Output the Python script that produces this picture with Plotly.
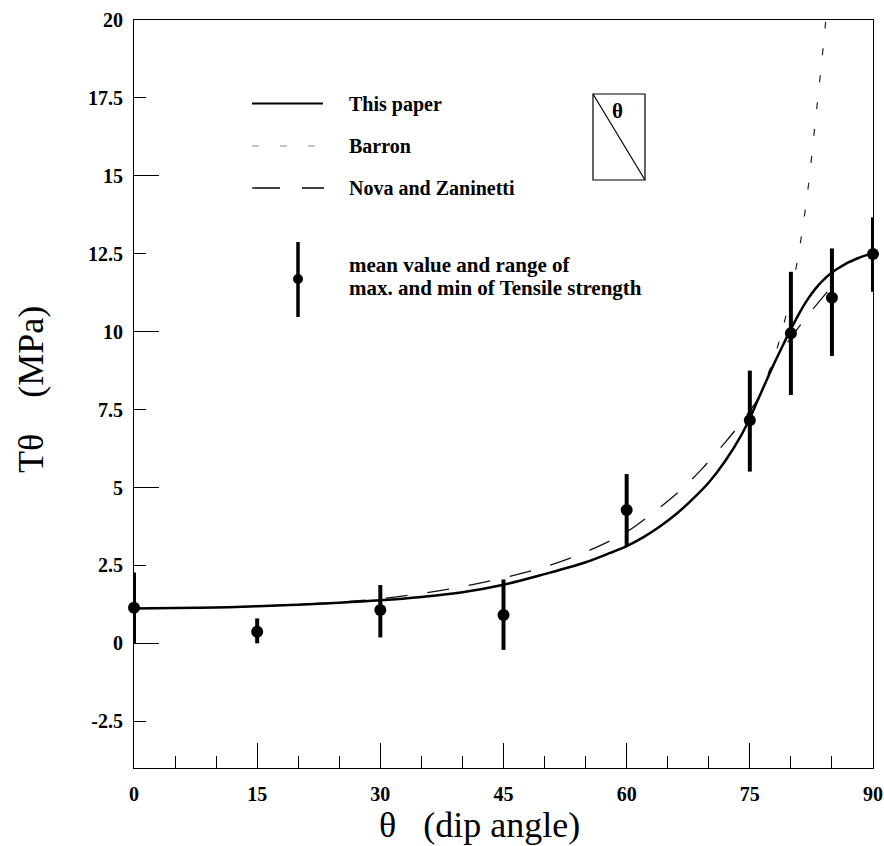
import plotly.graph_objects as go

# ---------------- data ----------------
theta_pts = [0, 15, 30, 45, 60, 75, 80, 85, 90]
t_mean = [1.14, 0.37, 1.07, 0.91, 4.28, 7.16, 9.95, 11.09, 12.49]
t_max = [2.27, 0.80, 1.87, 2.05, 5.43, 8.75, 11.92, 12.67, 13.67]
t_min = [0.00, 0.00, 0.19, -0.21, 3.13, 5.51, 7.97, 9.22, 11.28]

theta_paper = [0, 5, 10, 15, 20, 25, 30, 35, 40, 45, 50, 55, 58, 60, 62, 64, 66, 68, 70,
               72, 74, 75, 76, 77, 78, 79, 80, 81, 82, 83, 84, 85, 86, 87, 88, 89, 90]
t_paper = [1.12, 1.13, 1.15, 1.19, 1.24, 1.30, 1.38, 1.49, 1.64, 1.88, 2.22, 2.60, 2.90,
           3.12, 3.40, 3.74, 4.14, 4.62, 5.16, 5.85, 6.70, 7.22, 7.82, 8.42, 9.00, 9.55,
           10.08, 10.58, 11.02, 11.38, 11.67, 11.90, 12.07, 12.22, 12.34, 12.44, 12.49]

theta_nova = [0, 5, 10, 15, 20, 25, 30, 35, 40, 45, 50, 55, 60, 63, 66, 69, 72, 74, 76,
              77, 78.5, 80, 82, 84.5]
t_nova = [1.12, 1.13, 1.15, 1.19, 1.25, 1.32, 1.43, 1.60, 1.82, 2.10, 2.45, 2.93, 3.58,
          4.15, 4.78, 5.55, 6.45, 7.10, 7.85, 8.40, 9.25, 9.80, 10.50, 11.30]

theta_barron = [0, 5, 10, 15, 20, 25, 30, 35, 40, 45, 50, 55, 58, 60, 62, 64, 66, 68, 70,
                72, 74, 75, 76, 77, 78, 79, 80, 81, 82, 83, 84, 84.8]
t_barron = [1.12, 1.13, 1.15, 1.19, 1.24, 1.30, 1.38, 1.49, 1.64, 1.88, 2.22, 2.60, 2.90,
            3.12, 3.40, 3.74, 4.14, 4.62, 5.16, 5.85, 6.70, 7.22, 7.82, 8.50, 9.20, 10.10,
            11.20, 12.60, 14.40, 16.80, 19.30, 21.60]

x_tickvals = [0, 15, 30, 45, 60, 75, 90]
y_tickvals = [-2.5, 0, 2.5, 5, 7.5, 10, 12.5, 15, 17.5, 20]
y_ticktext = ["-2.5", "0", "2.5", "5", "7.5", "10", "12.5", "15", "17.5", "20"]
y_long_ticks = [0, 5, 10, 15]

legend_labels = ["This paper", "Barron", "Nova and Zaninetti"]
point_label = ["mean value and range of", "max. and min of Tensile strength"]

# ---------------- layout helpers ----------------
W, H = 884, 846
# plot area in window pixels: x 134..873, y 20..768
PL, PR, PT, PB = 134, 873, 20, 768
L, T = PL, PT
R, B = W - PR, H - PB
PW, PH = PR - PL, PB - PT
SERIF = "Liberation Serif"


def px(xp):
    return (xp - PL) / PW


def py(yp):
    return 1 - (yp - PT) / PH


fig = go.Figure()

fig.add_trace(go.Scatter(x=theta_barron, y=t_barron, mode="lines", line_shape="spline",
                         line=dict(color="#222", width=1.2, dash="7px,20px"),
                         showlegend=False, hoverinfo="skip"))
fig.add_trace(go.Scatter(x=theta_nova, y=t_nova, mode="lines", line_shape="spline",
                         line=dict(color="#111", width=1.3, dash="22px,20px"),
                         showlegend=False, hoverinfo="skip"))
fig.add_trace(go.Scatter(x=theta_paper, y=t_paper, mode="lines", line_shape="spline",
                         line=dict(color="black", width=2.5),
                         showlegend=False, hoverinfo="skip"))
fig.add_trace(go.Scatter(
    x=theta_pts, y=t_mean, mode="markers", cliponaxis=False,
    marker=dict(color="black", size=12),
    error_y=dict(type="data", symmetric=False,
                 array=[h - m for h, m in zip(t_max, t_mean)],
                 arrayminus=[m - l for m, l in zip(t_mean, t_min)],
                 thickness=4, width=0, color="black"),
    showlegend=False))
# invisible trace for the overlay axis carrying the long y ticks
fig.add_trace(go.Scatter(x=[0], y=[0], yaxis="y2", mode="markers",
                         marker=dict(opacity=0), showlegend=False, hoverinfo="skip"))

tickfont = dict(family=SERIF, size=20, color="black", weight="bold")

fig.update_layout(
    width=W, height=H, autosize=False,
    margin=dict(l=L, r=R, t=T, b=B),
    plot_bgcolor="white", paper_bgcolor="white",
    showlegend=False,
    xaxis=dict(range=[0, 90], tickvals=x_tickvals, ticks="inside", ticklen=25,
               tickwidth=1, tickcolor="black", automargin=False,
               minor=dict(dtick=5, tick0=0, ticks="inside", ticklen=12,
                          tickcolor="black", tickwidth=1),
               showline=True, mirror=True, linecolor="black", linewidth=1,
               showgrid=False, zeroline=False, tickfont=tickfont,
               ticklabelstandoff=8, ticklabeloverflow="allow"),
    yaxis=dict(range=[-4, 20], tickvals=y_tickvals, ticktext=y_ticktext,
               ticks="inside", ticklen=12, tickwidth=1, tickcolor="black",
               automargin=False,
               showline=True, mirror=True, linecolor="black", linewidth=1,
               showgrid=False, zeroline=False, tickfont=tickfont,
               ticklabelstandoff=6, ticklabeloverflow="allow"),
    yaxis2=dict(range=[-4, 20], overlaying="y", anchor="x", side="left",
                tickvals=y_long_ticks, ticks="inside", ticklen=25, tickwidth=1,
                tickcolor="black", showticklabels=False, showgrid=False,
                zeroline=False, showline=False, automargin=False),
)

shapes = []
# legend samples
shapes.append(dict(type="line", xref="paper", yref="paper", x0=px(252), x1=px(323),
                   y0=py(103.5), y1=py(103.5), line=dict(color="black", width=2)))
shapes.append(dict(type="line", xref="paper", yref="paper", x0=px(252), x1=px(320),
                   y0=py(146), y1=py(146), line=dict(color="#888", width=1, dash="7px,21px")))
shapes.append(dict(type="line", xref="paper", yref="paper", x0=px(252), x1=px(324),
                   y0=py(188), y1=py(188), line=dict(color="black", width=1.3, dash="28px,22px")))
shapes.append(dict(type="line", xref="paper", yref="paper", x0=px(298), x1=px(298),
                   y0=py(242), y1=py(317), line=dict(color="black", width=3.5)))
shapes.append(dict(type="circle", xref="paper", yref="paper", x0=px(293), x1=px(303),
                   y0=py(284), y1=py(274), fillcolor="black", line=dict(color="black", width=0)))
# inset box with diagonal
shapes.append(dict(type="rect", xref="paper", yref="paper", x0=px(593), x1=px(645),
                   y0=py(180), y1=py(94), line=dict(color="black", width=1.2)))
shapes.append(dict(type="line", xref="paper", yref="paper", x0=px(593), x1=px(645),
                   y0=py(94), y1=py(180), line=dict(color="black", width=1.2)))
fig.update_layout(shapes=shapes)

ann = []
leg_y = [104, 146, 188]
for lab, yy in zip(legend_labels, leg_y):
    ann.append(dict(text=lab, xref="paper", yref="paper", x=px(347), y=py(yy),
                    xanchor="left", yanchor="middle", showarrow=False,
                    font=dict(family=SERIF, size=20, color="black", weight="bold")))
for lab, yy in zip(point_label, [265, 288]):
    ann.append(dict(text=lab, xref="paper", yref="paper", x=px(347), y=py(yy),
                    xanchor="left", yanchor="middle", showarrow=False,
                    font=dict(family=SERIF, size=21, color="black", weight="bold")))
ann.append(dict(text="θ", xref="paper", yref="paper", x=px(617), y=py(111),
                xanchor="center", yanchor="middle", showarrow=False,
                font=dict(family=SERIF, size=21, color="black", weight="bold")))
ann.append(dict(text="Tθ\u00a0\u00a0\u00a0\u00a0(MPa)", xref="paper", yref="paper",
                x=px(31), y=py(390), xanchor="center", yanchor="middle",
                textangle=-90, showarrow=False,
                font=dict(family=SERIF, size=36, color="black")))
ann.append(dict(text="θ\u00a0\u00a0\u00a0(dip angle)", xref="paper", yref="paper",
                x=px(479), y=py(825), xanchor="center", yanchor="middle",
                showarrow=False, font=dict(family=SERIF, size=36, color="black")))
fig.update_layout(annotations=ann)

# remove the default 8px page margin so the 884x846 figure fills the window exactly
fig.write_html("out.html", config={"displayModeBar": False},
               post_script="document.body.style.margin='0';"
                           "document.body.style.overflow='hidden';")
